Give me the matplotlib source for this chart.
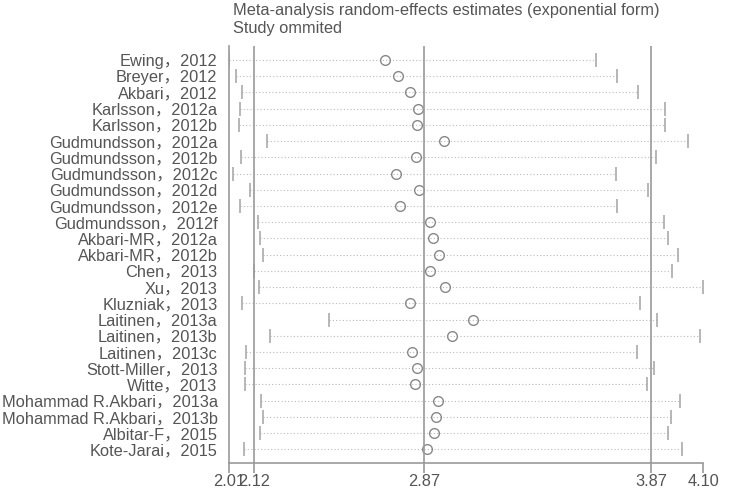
import matplotlib
matplotlib.use("Agg")
import matplotlib.pyplot as plt

plt.rcParams["font.family"] = ["Liberation Sans", "Noto Sans CJK SC"]

# ── données ──────────────────────────────────────────────────────────────
studies = [
    "Ewing，2012", "Breyer，2012", "Akbari，2012", "Karlsson，2012a",
    "Karlsson，2012b", "Gudmundsson，2012a", "Gudmundsson，2012b",
    "Gudmundsson，2012c", "Gudmundsson，2012d", "Gudmundsson，2012e",
    "Gudmundsson，2012f", "Akbari-MR，2012a", "Akbari-MR，2012b",
    "Chen，2013", "Xu，2013", "Kluzniak，2013", "Laitinen，2013a",
    "Laitinen，2013b", "Laitinen，2013c", "Stott-Miller，2013",
    "Witte，2013", "Mohammad R.Akbari，2013a", "Mohammad R.Akbari，2013b",
    "Albitar-F，2015", "Kote-Jarai，2015",
]
estimate = [2.70, 2.755, 2.808, 2.842, 2.838, 2.959, 2.835, 2.747, 2.847,
            2.766, 2.896, 2.911, 2.935, 2.896, 2.962, 2.808, 3.087, 2.993,
            2.816, 2.839, 2.830, 2.930, 2.923, 2.913, 2.883]
lower = [2.01, 2.043, 2.070, 2.058, 2.054, 2.177, 2.066, 2.030, 2.104,
         2.058, 2.139, 2.149, 2.161, 2.120, 2.143, 2.069, 2.452, 2.192,
         2.086, 2.082, 2.080, 2.152, 2.161, 2.149, 2.076]
upper = [3.627, 3.721, 3.811, 3.931, 3.931, 4.034, 3.892, 3.715, 3.856,
         3.721, 3.927, 3.943, 3.990, 3.963, 4.10, 3.821, 3.895, 4.085,
         3.809, 3.881, 3.853, 3.997, 3.958, 3.946, 4.007]
ref_lines = [2.12, 2.87, 3.87]
xticks = [2.01, 2.12, 2.87, 3.87, 4.10]

grey = "#999999"
txt = "#555555"

fig = plt.figure(figsize=(7.42, 4.88), dpi=100)
ax = fig.add_axes([0.3082, 0.0506, 0.6397, 0.8551])

rows = list(range(len(studies)))
for y, lo, est, hi in zip(rows, lower, estimate, upper):
    ax.plot([lo, hi], [y, y], color="#bbbbbb", lw=0.8, linestyle=(0, (1, 2)))
    ax.plot([lo, hi], [y, y], linestyle="none", marker="|", markersize=10,
            color="#aaaaaa", markeredgewidth=1.2)
    ax.plot(est, y, marker="o", markersize=7, markerfacecolor="none",
            markeredgecolor="#888888", markeredgewidth=1.0)

for x in ref_lines:
    ax.axvline(x, color=grey, lw=1.2)

ax.set_xlim(2.01, 4.10)
ax.set_ylim(len(studies) - 1 + 0.86, -0.86)

ax.set_yticks(rows)
ax.set_yticklabels(studies, fontsize=11.8, color=txt)
ax.tick_params(axis="y", length=0, pad=8)

ax.set_xticks(xticks)
ax.set_xticklabels([f"{v:.2f}" for v in xticks], fontsize=11.8, color=txt)
ax.tick_params(axis="x", direction="out", length=7, width=1.2, color=grey, pad=0.5)

for s in ["top", "right"]:
    ax.spines[s].set_visible(False)
for s in ["left", "bottom"]:
    ax.spines[s].set_color(grey)
    ax.spines[s].set_linewidth(1.2)

fig.text(233 / 742, 1 - 10 / 488, "Meta-analysis random-effects estimates (exponential form)",
         fontsize=11.8, color=txt, ha="left", va="center")
fig.text(233 / 742, 1 - 29 / 488, "Study ommited",
         fontsize=11.8, color=txt, ha="left", va="center")

fig.savefig("out.png", dpi=100, facecolor="white")
